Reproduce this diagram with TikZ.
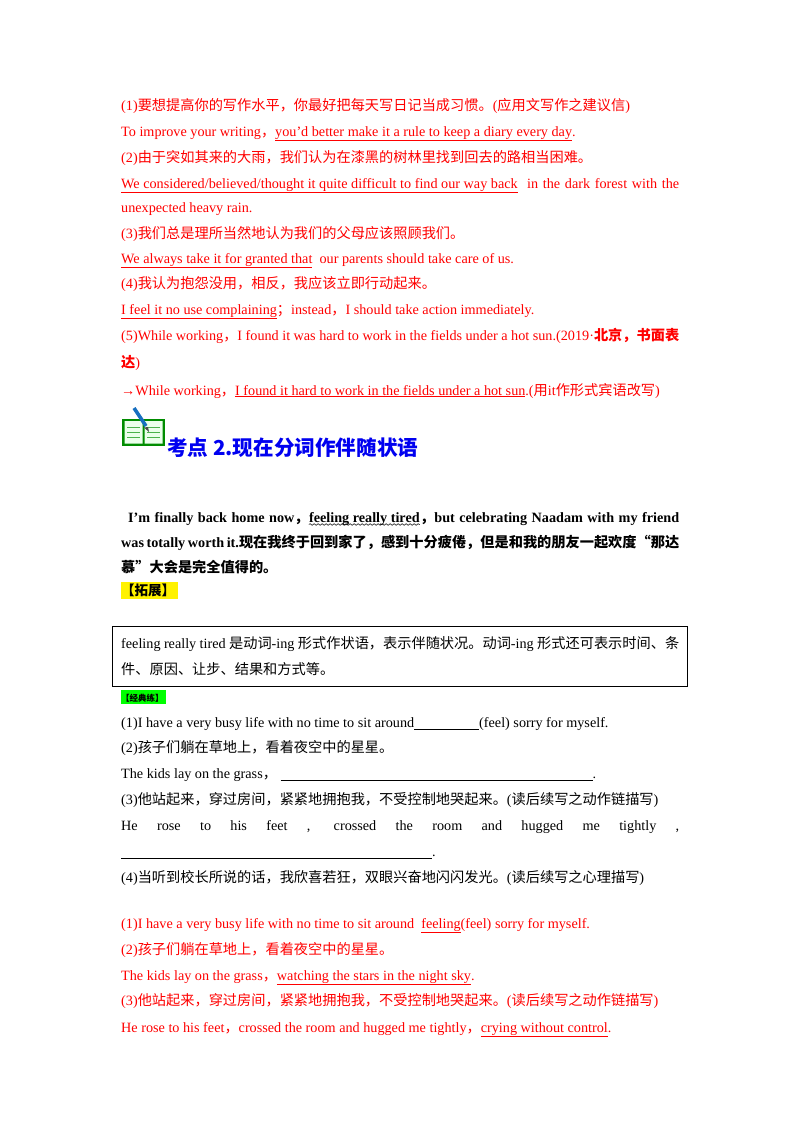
\documentclass[tikz,border=0pt]{standalone}
\usepackage{fontspec}
\usetikzlibrary{decorations.pathmorphing}
\setmainfont{Liberation Serif}
\newfontfamily\cjk{Noto Sans CJK SC}
\definecolor{rd}{RGB}{255,0,0}
\definecolor{bl}{RGB}{0,0,240}
\newcommand\myul[1]{\underline{#1}}
\newcommand\mywv[1]{\tikz[baseline=(w.base)]{\node[inner sep=0pt,anchor=base](w){#1}; \draw[line width=0.5pt,decorate,decoration={snake,amplitude=0.8pt,segment length=4pt}] ([yshift=-2.5pt]w.base west)--([yshift=-2.5pt]w.base east);}}
\begin{document}
\begin{tikzpicture}[x=1pt,y=-1pt,
  t/.style={anchor=base west,inner sep=0pt,font=\fontsize{14.2}{16}\selectfont},
  r/.style={t,text=rd}]
\useasboundingbox (0,0) rectangle (800,1132);
\fill[white] (0,0) rectangle (800,1132);
\node[r] (l1) at (121,110) {(1){\cjk 要想提高你的写作水平，你最好把每天写日记当成习惯。}({\cjk 应用文写作之建议信})};
\node[r] (l2) at (121,136) {To improve your writing{\cjk ，}\myul{you’d better make it a rule to keep a diary every day}.};
\node[r] (l3) at (121,162) {(2){\cjk 由于突如其来的大雨，我们认为在漆黑的树林里找到回去的路相当困难。}};
\node[r] (l4) at (121,188) {\makebox[558pt][s]{\myul{We considered/believed/thought it quite difficult to find our way back}\ \ in the dark forest with the}};
\node[r] (l5) at (121,212) {unexpected heavy rain.};
\node[r] (l6) at (121,238) {(3){\cjk 我们总是理所当然地认为我们的父母应该照顾我们。}};
\node[r] (l7) at (121,263) {\myul{We always take it for granted that}\ \ our parents should take care of us.};
\node[r] (l8) at (121,288) {(4){\cjk 我认为抱怨没用，相反，我应该立即行动起来。}};
\node[r] (l9) at (121,314) {\myul{I feel it no use complaining}{\cjk ；}instead{\cjk ，}I should take action immediately.};
\node[r] (l10) at (121,340) {\makebox[558pt][s]{(5)While working{\cjk ，}I found it was hard to work in the fields under a hot sun.(2019·{\cjk\bfseries 北京，书面表}}};
\node[r] (l11) at (121,367) {{\cjk\bfseries 达})};
\node[r] (l12) at (121,395) {→While working{\cjk ，}\myul{I found it hard to work in the fields under a hot sun}.({\cjk 用}it{\cjk 作形式宾语改写})};
% icon
\fill[green!55!black] (122,419) rectangle (165,446);
\fill[green!8!white] (124.5,421) rectangle (142.5,443.5) (144.5,421) rectangle (162.5,443.5);
\draw[green!40!gray,line width=0.4pt] (127,427)--(140,427) (127,432)--(140,432) (127,437)--(140,437) (147,427)--(160,427) (147,432)--(160,432) (147,437)--(160,437);
\draw[line width=3.5pt,cyan!50!blue] (134,408)--(146,426);
\fill[black!70] (144,427.5)--(148,427)--(149,432)--cycle;
\node[anchor=base west,inner sep=0pt,text=bl,font=\cjk\bfseries\fontsize{20.6}{24}\selectfont] (h) at (167,455) {考点 2.现在分词作伴随状语};
\node[t,font=\bfseries\fontsize{14.2}{16}\selectfont] (b1) at (128,522) {\makebox[551pt][s]{I’m finally back home now{\cjk ，}\mywv{feeling really tired}{\cjk ，}but celebrating Naadam with my friend}};
\node[t,font=\bfseries\fontsize{14.2}{16}\selectfont] (b2) at (121,547) {\makebox[558pt][s]{was totally worth it.{\cjk 现在我终于回到家了，感到十分疲倦，但是和我的朋友一起欢度“那达}}};
\node[t,font=\bfseries\fontsize{14.2}{16}\selectfont] (b3) at (121,572) {{\cjk 慕”大会是完全值得的。}};
\fill[yellow] (121,582) rectangle (178,599);
\node[t,font=\cjk\bfseries\fontsize{13.5}{16}\selectfont] (tz) at (121,595) {【拓展】};
\draw[line width=1pt] (112,626) rectangle (687,686);
\node[t] (x1) at (121,648) {\makebox[558pt][s]{feeling really tired {\cjk 是动词}-ing {\cjk 形式作状语，表示伴随状况。动词}-ing {\cjk 形式还可表示时间、条}}};
\node[t] (x2) at (121,674) {{\cjk 件、原因、让步、结果和方式等。}};
\fill[green] (121,690) rectangle (166,704);
\node[t,font=\cjk\bfseries\fontsize{8.5}{10}\selectfont] (jd) at (121,701) {【经典练】};
\node[t] (q1) at (121,727) {(1)I have a very busy life with no time to sit around\rule[-2pt]{65pt}{0.5pt}(feel) sorry for myself.};
\node[t] (q2) at (121,752) {(2){\cjk 孩子们躺在草地上，看着夜空中的星星。}};
\node[t] (q3) at (121,778) {The kids lay on the grass{\cjk ，}\ \rule[-2pt]{312pt}{0.5pt}.};
\node[t] (q4) at (121,804) {(3){\cjk 他站起来，穿过房间，紧紧地拥抱我，不受控制地哭起来。}({\cjk 读后续写之动作链描写})};
\node[t] (q5) at (121,830) {\makebox[558pt][s]{He rose to his feet , crossed the room and hugged me tightly ,}};
\node[t] (q6) at (121,856) {\rule[-2pt]{311pt}{0.5pt}.};
\node[t] (q7) at (121,882) {(4){\cjk 当听到校长所说的话，我欣喜若狂，双眼兴奋地闪闪发光。}({\cjk 读后续写之心理描写})};
\node[r] (a1) at (121,928) {(1)I have a very busy life with no time to sit around\ \ \myul{feeling}(feel) sorry for myself.};
\node[r] (a2) at (121,954) {(2){\cjk 孩子们躺在草地上，看着夜空中的星星。}};
\node[r] (a3) at (121,980) {The kids lay on the grass{\cjk ，}\myul{watching the stars in the night sky}.};
\node[r] (a4) at (121,1005) {(3){\cjk 他站起来，穿过房间，紧紧地拥抱我，不受控制地哭起来。}({\cjk 读后续写之动作链描写})};
\node[r] (a5) at (121,1032) {He rose to his feet{\cjk ，}crossed the room and hugged me tightly{\cjk ，}\myul{crying without control}.};
\end{tikzpicture}
\end{document}
